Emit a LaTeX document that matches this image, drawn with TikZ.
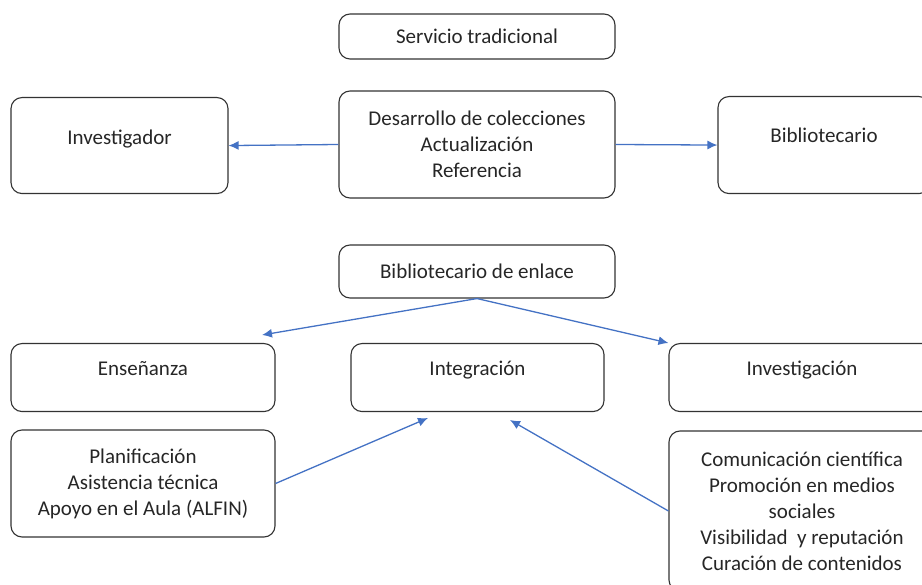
\documentclass[tikz,border=0pt]{standalone}
\usepackage{fontspec}
\setmainfont{Carlito}
\usetikzlibrary{arrows.meta}

\begin{document}
\begin{tikzpicture}[x = 1pt, y = -1pt,
    font = \fontsize{21}{26}\selectfont,
    box/.style = {draw = black!80, line width = 1.1pt, rounded corners = 11pt,
        align = center, inner sep = 0pt, text = black!85},
    link/.style = {draw = {rgb,255:red,68;green,114;blue,196}, line width = 1.3pt,
        -{Latex[length = 10pt, width = 9pt]}}]
            \useasboundingbox (0,0) rectangle (922,585);

            % servicio tradicional
            \node [box, minimum width = 276pt, minimum height = 45pt]
            (serv) at (477,36.5) {Servicio tradicional};
            \node [box, minimum width = 276pt, minimum height = 107pt]
            (des) at (477,144.5) {Desarrollo de colecciones\\Actualización\\Referencia};
            \node [box, anchor = north, text width = 217pt, text height = 47pt, text depth = 49pt]
            (inv) at (119.5,97) {Investigador};
            \node [box, anchor = north, text width = 212pt, text height = 46pt, text depth = 51pt]
            (bib) at (824,96) {Bibliotecario};

            \draw [link] (des.west) -- (inv.east);
            \draw [link] (des.east) -- (bib.west);

            % bibliotecario de enlace
            \node [box, minimum width = 276pt, minimum height = 53pt]
            (enl) at (477,271.5) {Bibliotecario de enlace};
            \node [box, anchor = north, text width = 264pt, text height = 32pt, text depth = 36pt]
            (ens) at (143,343) {Enseñanza};
            \node [box, anchor = north, text width = 253pt, text height = 32pt, text depth = 36pt]
            (int) at (477.5,343) {Integración};
            \node [box, anchor = north, text width = 266pt, text height = 32pt, text depth = 36pt]
            (invg) at (802,343) {Investigación};
            \node [box, minimum width = 264pt, minimum height = 107pt]
            (plan) at (143,483.5) {Planificación\\Asistencia técnica\\Apoyo en el Aula (ALFIN)};
            \node [box, minimum width = 266pt, minimum height = 160pt]
            (com) at (802,511) {Comunicación científica\\Promoción en medios\\sociales\\
                Visibilidad\ \ y reputación\\Curación de contenidos};

            \coordinate (ensTip) at (262,335);
            \coordinate (intTipL) at (428,418);
            \coordinate (intTipR) at (510,420);

            \draw [link] (enl.south) -- (ensTip);
            \draw [link] (enl.south) -- (invg.north west);
            \draw [link] (plan.east) -- (intTipL);
            \draw [link] (com.west) -- (intTipR);
        \end{tikzpicture}
\end{document}
